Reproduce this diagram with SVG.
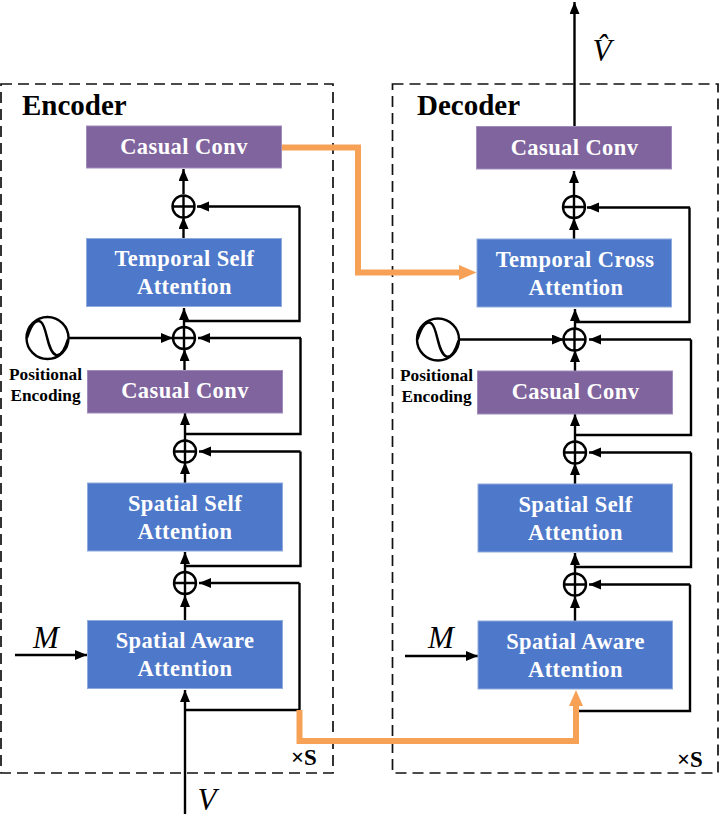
<svg xmlns="http://www.w3.org/2000/svg" width="721" height="820" viewBox="0 0 721 820">
<style>
text{font-family:"Liberation Serif","Times New Roman",serif;fill:#000}
.t{font-size:22.5px;font-weight:bold;fill:#fff;text-anchor:middle;letter-spacing:.4px}
.h{font-size:29px;font-weight:bold}
.p{font-size:17.3px;font-weight:bold;text-anchor:middle}
.i{font-size:31px;font-style:italic;text-anchor:middle}
.s{font-size:23px;font-weight:bold}
.b{fill:#4e78ca;stroke:#8faadc;stroke-width:1}
.v{fill:#7f649e;stroke:#a08cbc;stroke-width:1}
.d{fill:none;stroke:#111;stroke-width:1.7;stroke-dasharray:11 6}
.l{fill:none;stroke:#000;stroke-width:2.4}
.a{fill:none;stroke:#000;stroke-width:2.4;marker-end:url(#ah)}
.o{fill:none;stroke:#f7a157;stroke-width:6}
.c{fill:#fff;stroke:#000;stroke-width:2.4}
</style>
<defs>
<marker id="ah" markerUnits="userSpaceOnUse" markerWidth="13" markerHeight="11" refX="12" refY="5" orient="auto"><path d="M0,0L12,5L0,10Z" fill="#000"/></marker>
</defs>
<rect class="d" x="1" y="84" width="332" height="689"/>
<rect class="d" x="392.500" y="84" width="325.500" height="689"/>
<g id="connectors">
<path class="a" d="M183.500 194V169"/>
<path class="a" d="M183.500 238V217"/>
<path class="a" d="M300 206.500H197"/>
<path class="l" d="M184 321H299.500V206.500"/>
<path class="a" d="M184 327V308"/>
<path class="a" d="M69 338H173"/>
<path class="a" d="M184.500 370V349"/>
<path class="a" d="M301 338H198"/>
<path class="l" d="M185 434H300.500V338"/>
<path class="a" d="M185 440V413"/>
<path class="a" d="M185 483V462"/>
<path class="a" d="M300.500 451.500H199"/>
<path class="l" d="M185 566H300.500V451.500"/>
<path class="a" d="M185 572V552"/>
<path class="a" d="M185 620V595"/>
<path class="a" d="M299.500 583H199"/>
<path class="l" d="M185 710H299.500V583"/>
<path class="a" d="M185 814V690"/>
<path class="a" d="M15 655H87"/>
<path class="a" d="M574.500 127V2"/>
<path class="a" d="M574 195V171"/>
<path class="a" d="M574 239V218"/>
<path class="a" d="M690 207.500H587"/>
<path class="l" d="M575 322H689.500V207.500"/>
<path class="a" d="M575 328V309"/>
<path class="a" d="M460 339.500H564"/>
<path class="a" d="M575 371V350"/>
<path class="a" d="M691 339.500H589"/>
<path class="l" d="M575 435H691V339.500"/>
<path class="a" d="M575 441V414"/>
<path class="a" d="M575 484V463"/>
<path class="a" d="M691 452.500H589"/>
<path class="l" d="M575 567H691V452.500"/>
<path class="a" d="M575 573V553"/>
<path class="a" d="M575 621V596"/>
<path class="a" d="M690 584.500H589"/>
<path class="l" d="M576 711H690V584.500"/>
<path class="a" d="M405 656H478"/>
<path class="o" d="M281 147.500H358V272.500H462"/>
<path d="M459 265L476.500 272.500L459 280Z" fill="#f7a157"/>
<path class="o" d="M299.500 710V741H576V704"/>
<path d="M569 706L576 690L583 706Z" fill="#f7a157"/>
</g>
<g id="encoder-label"><text class="h" x="22" y="115">Encoder</text></g>
<g id="decoder-label"><text class="h" x="417" y="115">Decoder</text></g>
<g id="enc-conv-top"><rect class="v" x="86.500" y="126" width="195" height="42"/><text class="t" x="184" y="154">Casual Conv</text></g>
<g id="enc-temporal"><rect class="b" x="86.500" y="238.500" width="195" height="68"/><text class="t" x="184.500" y="266">Temporal Self</text><text class="t" x="184.500" y="294">Attention</text></g>
<g id="enc-conv"><rect class="v" x="87.500" y="370.500" width="195" height="42.500"/><text class="t" x="185" y="398">Casual Conv</text></g>
<g id="enc-spatial"><rect class="b" x="87.500" y="483" width="195" height="68"/><text class="t" x="185" y="511">Spatial Self</text><text class="t" x="185" y="539">Attention</text></g>
<g id="enc-aware"><rect class="b" x="87.500" y="620.500" width="195" height="68"/><text class="t" x="185" y="648">Spatial Aware</text><text class="t" x="185" y="676">Attention</text></g>
<g id="dec-conv-top"><rect class="v" x="476.500" y="126.500" width="195" height="42.500"/><text class="t" x="574.500" y="154.500">Casual Conv</text></g>
<g id="dec-temporal"><rect class="b" x="477" y="239" width="194.500" height="68"/><text class="t" x="575" y="267">Temporal Cross</text><text class="t" x="576" y="295">Attention</text></g>
<g id="dec-conv"><rect class="v" x="477.500" y="371" width="195" height="43"/><text class="t" x="575.500" y="399">Casual Conv</text></g>
<g id="dec-spatial"><rect class="b" x="478" y="484" width="194.500" height="68"/><text class="t" x="575.500" y="512">Spatial Self</text><text class="t" x="575.500" y="540">Attention</text></g>
<g id="dec-aware"><rect class="b" x="478" y="621" width="194.500" height="68"/><text class="t" x="575.500" y="649">Spatial Aware</text><text class="t" x="575.500" y="677">Attention</text></g>
<g id="enc-add1"><circle class="c" cx="183.500" cy="206.500" r="11"/><path class="l" d="M172.500 206.500H194.500M183.500 195.500V217.500"/></g>
<g id="enc-add2"><circle class="c" cx="184" cy="338" r="11"/><path class="l" d="M173 338H195M184 327V349"/></g>
<g id="enc-add3"><circle class="c" cx="185" cy="451.500" r="11"/><path class="l" d="M174 451.500H196M185 440.500V462.500"/></g>
<g id="enc-add4"><circle class="c" cx="185" cy="583" r="11"/><path class="l" d="M174 583H196M185 572V594"/></g>
<g id="dec-add1"><circle class="c" cx="574" cy="207" r="11"/><path class="l" d="M563 207H585M574 196V218"/></g>
<g id="dec-add2"><circle class="c" cx="574.500" cy="339.500" r="11"/><path class="l" d="M563.500 339.500H585.500M574.500 328.500V350.500"/></g>
<g id="dec-add3"><circle class="c" cx="575" cy="452.500" r="11"/><path class="l" d="M564 452.500H586M575 441.500V463.500"/></g>
<g id="dec-add4"><circle class="c" cx="575" cy="584.500" r="11"/><path class="l" d="M564 584.500H586M575 573.500V595.500"/></g>
<g id="enc-pos"><circle class="c" cx="47.500" cy="338" r="21"/><path class="l" d="M27 338C32 322 37 319 41 322C47 326 47 352 56 355C61 356 65 349 68 339"/><text class="p" x="45.500" y="380">Positional</text><text class="p" x="45.500" y="401">Encoding</text></g>
<g id="dec-pos"><circle class="c" cx="438" cy="339.500" r="21"/><path class="l" d="M417.500 339.500C422.500 323.500 427.500 320.500 431.500 323.500C437.500 327.500 437.500 353.500 446.500 356.500C451.500 357.500 455.500 350.500 458.500 340.500"/><text class="p" x="436.500" y="381">Positional</text><text class="p" x="436.500" y="402">Encoding</text></g>
<g id="labels">
<text class="i" x="46" y="648">M</text>
<text class="i" x="441" y="648">M</text>
<text class="i" x="207" y="810">V</text>
<text class="i" x="602" y="61">V̂</text>
<text class="s" x="291" y="765">×S</text>
<text class="s" x="677" y="767">×S</text>
</g>
</svg>
